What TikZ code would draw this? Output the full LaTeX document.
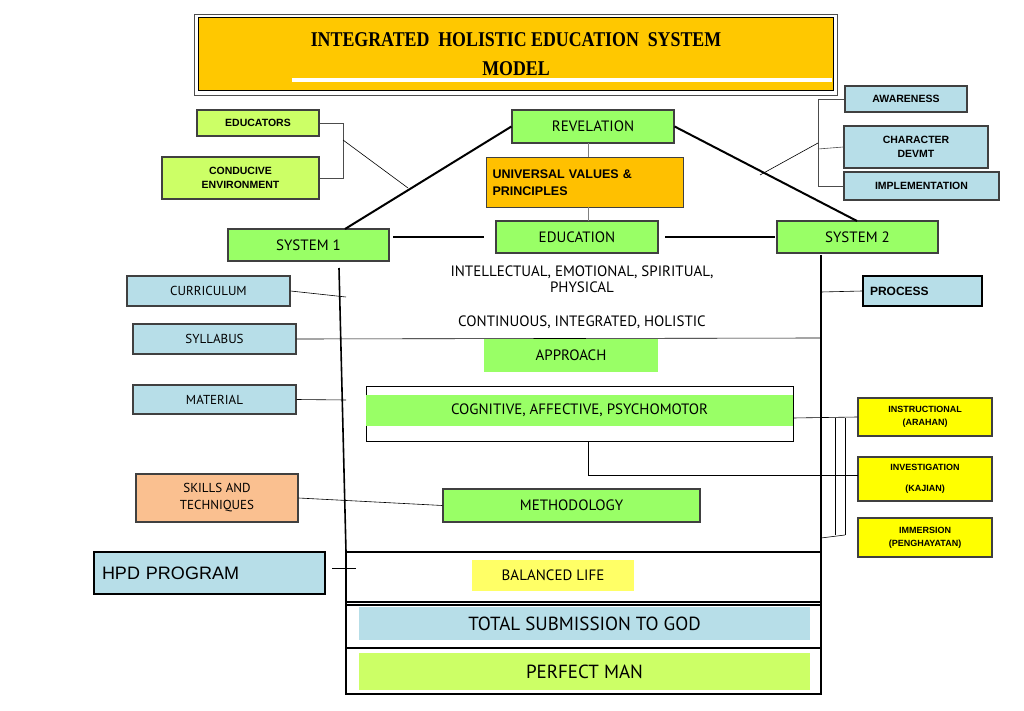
\documentclass[tikz,border=0pt]{standalone}
\usepackage{fontspec}
\setmainfont{PT Sans}
\newfontfamily\arialf{Liberation Sans}
\newfontfamily\titlef{Liberation Serif}
\definecolor{gold}{HTML}{FFC800}
\definecolor{lgreen}{HTML}{99FF66}
\definecolor{lime}{HTML}{CCFF66}
\definecolor{lblue}{HTML}{B7DEE8}
\definecolor{peach}{HTML}{FAC090}
\definecolor{yel}{HTML}{FFFF00}
\definecolor{pyel}{HTML}{FFFF66}
\definecolor{orng}{HTML}{FFC000}
\begin{document}
\begin{tikzpicture}[x=1pt,y=-1pt,
 hand/.style={font=\fontsize{15}{16}\selectfont},
 bx/.style={draw=black!75,line width=1.2pt,inner sep=0pt},
 ab/.style={font=\arialf\bfseries\fontsize{10.5}{14}\selectfont,align=center},
 thin/.style={line width=0.6pt},
 thk/.style={line width=2pt}]
\useasboundingbox (0,0) rectangle (1024,711);
% title
\draw[line width=0.8pt,black!70] (194,14) rectangle (837,95);
\fill[gold] (198,18) rectangle (833,91);
\draw[line width=1pt] (198,18) rectangle (833,91);
\fill[white] (292,78) rectangle (832,82);
\node (t1) at (516,40) {\titlef\bfseries\fontsize{21}{22}\selectfont\scalebox{0.85}[1]{INTEGRATED\ \ HOLISTIC EDUCATION\ \ SYSTEM}};
\node (t2) at (516,69) {\titlef\bfseries\fontsize{21}{22}\selectfont\scalebox{0.85}[1]{MODEL}};
% right top boxes
\node[bx,fill=lblue,minimum width=122,minimum height=26,ab] (aw) at (906,99) {AWARENESS};
\node[bx,fill=lblue,minimum width=144,minimum height=42,ab] (cd) at (916,147) {CHARACTER\\DEVMT};
\node[bx,fill=lblue,minimum width=155,minimum height=28,ab] (im) at (921.5,186) {IMPLEMENTATION};
\draw[thin,black!70] (aw.west) -- (818,99) -- (818,186) -- (im.west);
\draw[thin,black!70] (818,149) -- (cd.west);
\coordinate (rb) at (818,143);
\coordinate (rd) at (760,175);
\draw[thin] (rb) -- (rd);
% left top boxes
\node[bx,fill=lime,minimum width=122,minimum height=26,ab] (ed) at (258,123) {EDUCATORS};
\node[bx,fill=lime,minimum width=157,minimum height=42,ab] (ce) at (240.5,178) {CONDUCIVE\\ENVIRONMENT};
\draw[thin,black!70] (ed.east) -- (343,123) -- (343,178) -- (ce.east);
\coordinate (lb) at (343,140);
\coordinate (ld) at (408,188);
\draw[thin] (lb) -- (ld);
% central
\node[bx,fill=lgreen,minimum width=162,minimum height=33,hand] (rev) at (593,126.5) {REVELATION};
\node[bx,fill=orng,minimum width=197,minimum height=50,ab,font=\arialf\bfseries\fontsize{12.5}{17}\selectfont,align=left,anchor=north west,text width=185,inner xsep=6pt] (uv) at (486,157) {UNIVERSAL VALUES \&\\PRINCIPLES};
\node[bx,fill=lgreen,minimum width=162,minimum height=32,hand] (edu) at (577,237) {EDUCATION};
\node[bx,fill=lgreen,minimum width=161,minimum height=32,hand] (s1) at (308.5,245) {SYSTEM 1};
\node[bx,fill=lgreen,minimum width=161,minimum height=32,hand] (s2) at (857.5,237) {SYSTEM 2};
\draw[thin,black!50] (588,143) -- (588,157) (588,207) -- (588,221);
\draw[thk] (rev.west) -- (345,229);
\draw[thk] (rev.east) -- (857,221);
\draw[thk] (393,237) -- (484,237);
\draw[thk] (665,237) -- (775,237);
% house walls
\draw[line width=1.6pt] (339,268) -- (346,552);
\draw[line width=1.6pt] (821,255) -- (821,568);
\node[hand,align=center] (iep) at (582,279) {INTELLECTUAL, EMOTIONAL, SPIRITUAL,\\PHYSICAL};
\node[hand] (cih) at (582,322) {CONTINUOUS, INTEGRATED, HOLISTIC};
\node[fill=lgreen,minimum width=174,minimum height=33,hand] (app) at (571,355.5) {APPROACH};
% left blue boxes
\node[bx,fill=lblue,minimum width=163,minimum height=30,hand,font=\fontsize{13}{14}\selectfont] (cur) at (208.5,291) {CURRICULUM};
\node[bx,fill=lblue,minimum width=163,minimum height=30,hand,font=\fontsize{13}{14}\selectfont] (syl) at (214.5,339) {SYLLABUS};
\node[bx,fill=lblue,minimum width=163,minimum height=29,hand,font=\fontsize{13}{14}\selectfont] (mat) at (214.5,399.5) {MATERIAL};
\draw[thin] (cur.east) -- (346,297);
\draw[thin] (syl.east) -- (821,338);
\draw[thin] (mat.east) -- (346,400);
% cognitive
\draw[thin] (366,386) rectangle (793,441);
\node[fill=lgreen,minimum width=427,minimum height=31,hand,inner sep=0pt] (cog) at (579.5,410.5) {COGNITIVE, AFFECTIVE, PSYCHOMOTOR};
% process etc
\node[draw,line width=2pt,fill=lblue,minimum width=119,minimum height=30,ab,font=\arialf\bfseries\fontsize{12}{14}\selectfont,anchor=west,text width=105,align=left] (pro) at (862,291) {PROCESS};
\draw[thin] (821,292) -- (pro.west);
\node[bx,fill=yel,minimum width=134,minimum height=38,ab,font=\arialf\bfseries\fontsize{9}{13}\selectfont] (ins) at (925,417) {INSTRUCTIONAL\\(ARAHAN)};
\node[bx,fill=yel,minimum width=134,minimum height=44,ab,font=\arialf\bfseries\fontsize{9}{21}\selectfont] (inv) at (925,479) {INVESTIGATION\\(KAJIAN)};
\node[bx,fill=yel,minimum width=134,minimum height=39,ab,font=\arialf\bfseries\fontsize{9}{13}\selectfont] (imm) at (925,537.5) {IMMERSION\\(PENGHAYATAN)};
\draw[thin] (793,418) -- (ins.west);
\draw[thin] (835,418) -- (835,535) (845,418) -- (845,535);
\draw[thin] (821,538) -- (845,535);
\draw[thin] (588,441) -- (588,475) -- (858,475);
% skills / methodology
\node[bx,fill=peach,minimum width=162,minimum height=48,hand,font=\fontsize{13}{17}\selectfont,align=center] (sk) at (217,498) {SKILLS AND\\TECHNIQUES};
\node[bx,fill=lgreen,minimum width=257,minimum height=33,hand] (met) at (571.5,505.5) {METHODOLOGY};
\draw[thin] (sk.east) -- (met.west);
% HPD
\node[draw,line width=2pt,fill=lblue,minimum width=231,minimum height=42,font=\arialf\fontsize{18}{20}\selectfont,anchor=west,text width=215,align=left] (hpd) at (93,573) {HPD PROGRAM};
\draw[thin] (332,568) -- (356,568);
% bottom
\draw[line width=2pt] (346,552) rectangle (821,694);
\draw[line width=2pt] (346,602) -- (821,602) (346,605) -- (821,605) (346,648) -- (821,648);
\node[fill=pyel,minimum width=162,minimum height=31,hand] (bal) at (553,575.5) {BALANCED LIFE};
\node[fill=lblue,minimum width=451,minimum height=33,font=\fontsize{19}{20}\selectfont,inner sep=0pt] (tsg) at (584.5,623.5) {TOTAL SUBMISSION TO GOD};
\node[fill=lime,minimum width=451,minimum height=37,font=\fontsize{19}{20}\selectfont,inner sep=0pt] (pm) at (584.5,671.5) {PERFECT MAN};
\end{tikzpicture}
\end{document}
